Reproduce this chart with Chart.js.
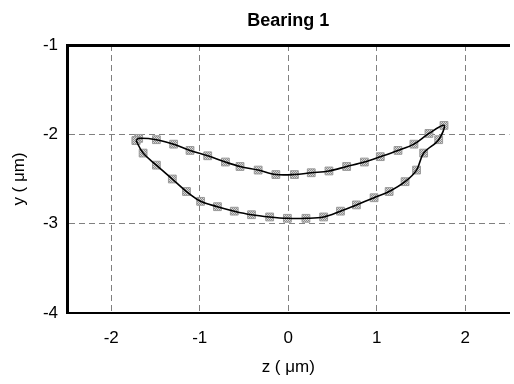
<!DOCTYPE html>
<html>
<head>
<meta charset="utf-8">
<script src="https://cdn.jsdelivr.net/npm/chart.js@4/dist/chart.umd.min.js"></script>
<style>
html,body{margin:0;padding:0;background:#fff;overflow:hidden;width:514px;height:384px;}
canvas{display:block;}
</style>
</head>
<body>
<canvas id="c" width="516" height="384"></canvas>
<script>
// Orbit of bearing 1: upper branch (left -> right), lower branch (right -> left)
const upperZ = [-1.72, -1.69, -1.49, -1.295, -1.11, -0.91, -0.71, -0.545, -0.34, -0.14, 0.07, 0.26, 0.46, 0.66, 0.86, 1.04, 1.24, 1.42, 1.59, 1.76];
const upperY = [-2.07, -2.045, -2.06, -2.11, -2.18, -2.24, -2.31, -2.36, -2.40, -2.45, -2.45, -2.43, -2.41, -2.36, -2.31, -2.25, -2.18, -2.11, -1.99, -1.90];
const lowerZ = [1.70, 1.53, 1.45, 1.32, 1.14, 0.97, 0.77, 0.59, 0.40, 0.20, -0.01, -0.21, -0.415, -0.61, -0.80, -0.99, -1.15, -1.31, -1.49, -1.64, -1.72];
const lowerY = [-2.06, -2.21, -2.40, -2.53, -2.64, -2.71, -2.79, -2.86, -2.925, -2.94, -2.94, -2.925, -2.90, -2.86, -2.81, -2.75, -2.64, -2.50, -2.345, -2.21, -2.07];
const xTickVals = [-2, -1, 0, 1, 2];
const yTickVals = [-4, -3, -2, -1];
const titleText = 'Bearing 1';
const xLabel = 'z ( \u03bcm)';
const yLabel = 'y ( \u03bcm)';

const orbit = upperZ.map((z, i) => ({x: z, y: upperY[i]}))
  .concat(lowerZ.map((z, i) => ({x: z, y: lowerY[i]})));

const FONT = 'Liberation Sans, Arial, Helvetica, sans-serif';

// cross-hatched grey fill for the markers
const pc = document.createElement('canvas');
pc.width = 2; pc.height = 2;
const pctx = pc.getContext('2d');
pctx.fillStyle = '#d8d8d8'; pctx.fillRect(0, 0, 2, 2);
pctx.fillStyle = '#8a8a8a'; pctx.fillRect(0, 0, 1, 1); pctx.fillRect(1, 1, 1, 1);
const hatch = pctx.createPattern(pc, 'repeat');

new Chart(document.getElementById('c'), {
  type: 'scatter',
  data: {
    datasets: [
      {
        data: orbit,
        showLine: true,
        borderColor: '#000',
        borderWidth: 1.6,
        tension: 0.35,
        pointRadius: 0,
        order: 0
      },
      {
        data: orbit,
        showLine: false,
        pointStyle: 'rect',
        pointRadius: 5.5,
        backgroundColor: hatch,
        borderColor: '#9a9a9a',
        borderWidth: 1,
        order: 1
      }
    ]
  },
  options: {
    responsive: false,
    animation: false,
    events: [],
    layout: {padding: {left: 0, right: 0, top: 0, bottom: 0}},
    plugins: {legend: {display: false}, tooltip: {enabled: false}, title: {display: false}},
    scales: {
      x: {
        type: 'linear', position: 'bottom', min: -2.5, max: 2.5,
        afterBuildTicks: s => { s.ticks = xTickVals.map(v => ({value: v})); },
        afterFit: s => { s.height = 71; },
        ticks: {color: '#000', font: {family: FONT, size: 17}, padding: 15, maxRotation: 0},
        grid: {color: '#808080', lineWidth: 1, drawTicks: false},
        border: {display: true, color: '#000', width: 2, dash: [6, 4]},
        title: {display: true, text: xLabel, color: '#000', font: {family: FONT, size: 17}, padding: {top: 0, bottom: 6}}
      },
      xTop: {
        type: 'linear', position: 'top', min: -2.5, max: 2.5,
        afterBuildTicks: s => { s.ticks = []; },
        afterFit: s => { s.height = 45; },
        ticks: {display: false},
        grid: {display: false, drawTicks: false},
        border: {display: true, color: '#000', width: 3},
        title: {display: true, text: titleText, color: '#000', font: {family: FONT, size: 18, weight: 'bold'}, padding: {top: 10, bottom: 0}}
      },
      y: {
        type: 'linear', position: 'left', min: -4, max: -1,
        afterBuildTicks: s => { s.ticks = yTickVals.map(v => ({value: v})); },
        afterFit: s => { s.width = 67; },
        ticks: {color: '#000', font: {family: FONT, size: 17}, padding: 9},
        grid: {color: '#808080', lineWidth: 1, drawTicks: false},
        border: {display: true, color: '#000', width: 3, dash: [6, 4]},
        title: {display: true, text: yLabel, color: '#000', font: {family: FONT, size: 17}, padding: {top: 9, bottom: 0}}
      }
    }
  }
});
</script>
</body>
</html>
